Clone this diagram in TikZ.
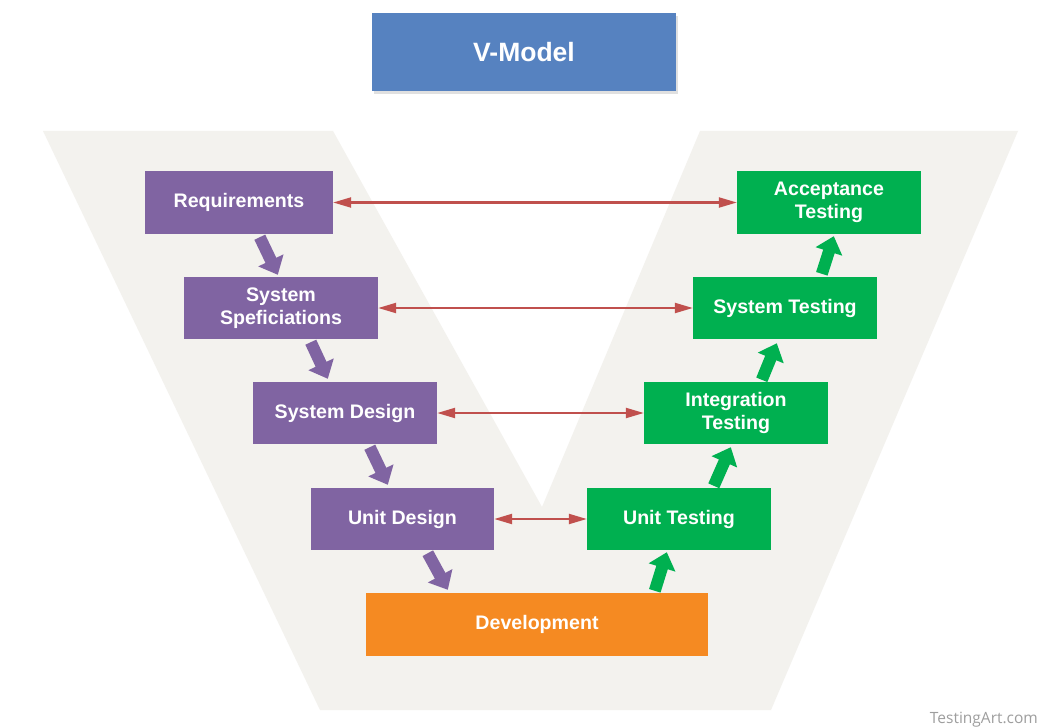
\documentclass[tikz,border=0pt]{standalone}
\usepackage{fontspec}
\setmainfont{Liberation Sans}
\newfontfamily\markfont{Open Sans}
\usetikzlibrary{arrows.meta,calc}

\definecolor{vband}{RGB}{243,242,238}
\definecolor{titleblue}{RGB}{86,130,192}
\definecolor{phasepurple}{RGB}{128,100,162}
\definecolor{testgreen}{RGB}{0,176,80}
\definecolor{devorange}{RGB}{245,138,34}
\definecolor{linkred}{RGB}{192,80,77}

\tikzset{
  phase/.style={rectangle, inner sep=0pt, text=white, align=center,
    font=\bfseries\fontsize{19.6}{23}\selectfont},
  leftphase/.style={phase, fill=phasepurple},
  rightphase/.style={phase, fill=testgreen},
  link/.style={draw=linkred, line width=2.2pt,
    {Triangle[length=18pt,width=10pt]}-{Triangle[length=18pt,width=10pt]}},
  downflow/.style={draw=phasepurple, line width=12pt,
    -{Triangle[length=16pt,width=27pt]}},
  upflow/.style={draw=testgreen, line width=12pt,
    -{Triangle[length=16pt,width=27pt]}}
}

\begin{document}
\begin{tikzpicture}[x=1pt,y=-1pt]
  \clip (0,0) rectangle (1040,727);
  \fill[white] (0,0) rectangle (1040,727);

  % the V band behind the phases
  \fill[vband] (43,131) -- (333,131) -- (542,507) -- (700,131) -- (1018,131)
    -- (771,710) -- (320,710) -- cycle;

  % title
  \fill[black!12] (374,16) rectangle (678,94);
  \node[rectangle, fill=titleblue, minimum width=304pt, minimum height=78pt,
    text=white, font=\bfseries\fontsize{26.5}{30}\selectfont]
    (title) at (524,52) {V-Model};

  % verification side
  \node[leftphase, minimum width=188pt, minimum height=63pt] (req) at (239,202.5) {Requirements};
  \node[leftphase, minimum width=194pt, minimum height=62pt] (spec) at (281,308) {System\\Speficiations};
  \node[leftphase, minimum width=184pt, minimum height=62pt] (sdes) at (345,413) {System Design};
  \node[leftphase, minimum width=183pt, minimum height=62pt] (udes) at (402.5,519) {Unit Design};

  % coding
  \node[phase, fill=devorange, minimum width=342pt, minimum height=63pt] (dev) at (537,624.5) {Development};

  % validation side
  \node[rightphase, minimum width=184pt, minimum height=62pt] (utest) at (679,519) {Unit Testing};
  \node[rightphase, minimum width=184pt, minimum height=62pt] (itest) at (736,413) {Integration\\Testing};
  \node[rightphase, minimum width=184pt, minimum height=62pt] (stest) at (785,308) {System Testing};
  \node[rightphase, minimum width=184pt, minimum height=63pt] (atest) at (829,202.5) {Acceptance\\Testing};

  % links between matching phases
  \draw[link] (req.east) -- (atest.west);
  \draw[link] (spec.east) -- (stest.west);
  \draw[link] (sdes.east) -- (itest.west);
  \draw[link] (udes.east) -- (utest.west);

  % flow down the left arm
  \draw[downflow] ($(req.south west)+(115,3)$) -- ($(spec.north west)+(94,-2)$);
  \draw[downflow] ($(spec.south west)+(127,3)$) -- ($(sdes.north west)+(75,-3)$);
  \draw[downflow] ($(sdes.south west)+(117,3)$) -- ($(udes.north west)+(77,-3)$);
  \draw[downflow] ($(udes.south west)+(117,3)$) -- ($(dev.north west)+(82,-3)$);

  % flow up the right arm
  \draw[upflow] ($(dev.north west)+(289,-2)$) -- ($(utest.south west)+(80,2)$);
  \draw[upflow] ($(utest.north west)+(127,-2)$) -- ($(itest.south west)+(87,3)$);
  \draw[upflow] ($(itest.north west)+(118,-2)$) -- ($(stest.south west)+(84,4)$);
  \draw[upflow] ($(stest.north west)+(129,-3)$) -- ($(atest.south west)+(97,2)$);

  % watermark
  \node[anchor=base east, inner sep=0pt, text=black!38,
    font=\markfont\fontsize{15.5}{18}\selectfont] (mark) at (1038,723) {TestingArt.com};
\end{tikzpicture}
\end{document}
